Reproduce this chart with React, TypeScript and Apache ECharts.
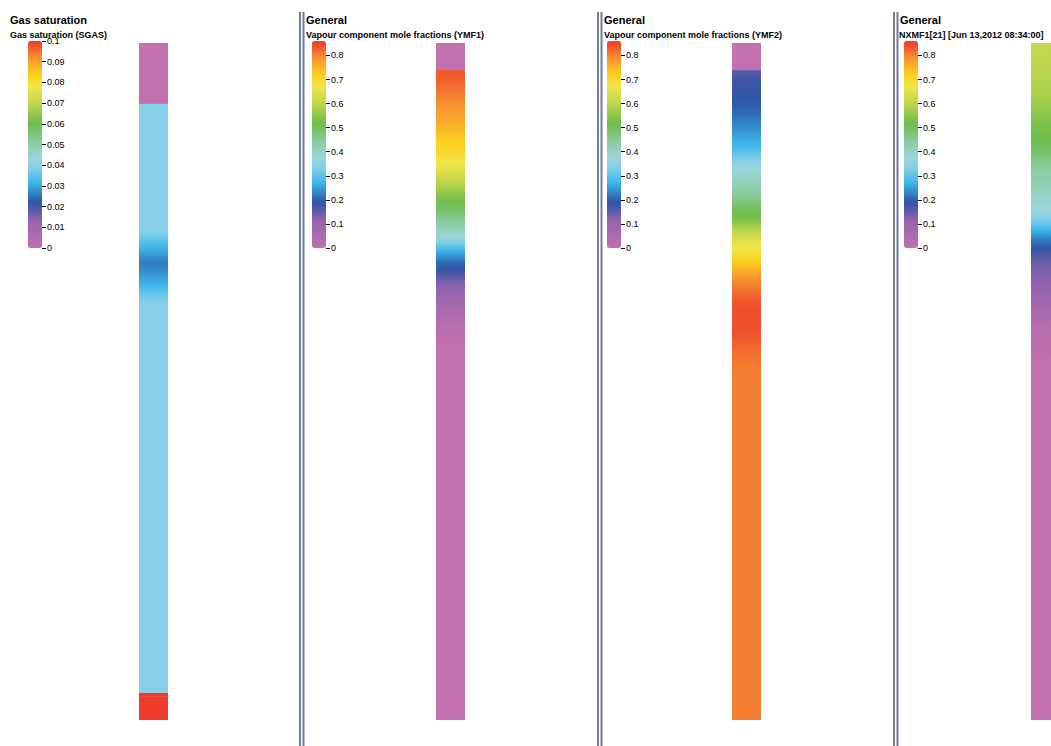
import React, { useEffect, useRef } from 'react';
import * as echarts from 'echarts';

const FONT = '"Liberation Sans", Arial, Helvetica, sans-serif';

// Depth cells of the well column (top to bottom)
const depthCells: string[] = Array.from({ length: 100 }, (_, i) => `K${i + 1}`);

// Legend tick values
const sgasTicks = [0, 0.01, 0.02, 0.03, 0.04, 0.05, 0.06, 0.07, 0.08, 0.09, 0.1];
const fractionTicks = [0, 0.1, 0.2, 0.3, 0.4, 0.5, 0.6, 0.7, 0.8];

// Gas saturation (SGAS) per cell
const sgasValues = [
  0, 0, 0, 0, 0, 0, 0, 0, 0,
  0.039, 0.039, 0.039, 0.039, 0.039, 0.039, 0.039, 0.039, 0.039, 0.039,
  0.039, 0.039, 0.039, 0.039, 0.039, 0.039, 0.039, 0.039, 0.039,
  0.037, 0.034, 0.031, 0.028, 0.026, 0.027, 0.029, 0.031, 0.034, 0.037,
  0.039, 0.039, 0.039, 0.039, 0.039, 0.039, 0.039, 0.039, 0.039, 0.039,
  0.039, 0.039, 0.039, 0.039, 0.039, 0.039, 0.039, 0.039, 0.039, 0.039,
  0.039, 0.039, 0.039, 0.039, 0.039, 0.039, 0.039, 0.039, 0.039, 0.039,
  0.039, 0.039, 0.039, 0.039, 0.039, 0.039, 0.039, 0.039, 0.039, 0.039,
  0.039, 0.039, 0.039, 0.039, 0.039, 0.039, 0.039, 0.039, 0.039, 0.039,
  0.039, 0.039, 0.039, 0.039, 0.039, 0.039, 0.039, 0.039,
  0.1, 0.1, 0.1, 0.1,
];

// Vapour component mole fractions (YMF1)
const ymf1Values = [
  0, 0, 0, 0,
  0.835, 0.83, 0.82, 0.805, 0.795, 0.785, 0.775, 0.765, 0.75, 0.735,
  0.72, 0.71, 0.695, 0.675, 0.655, 0.63, 0.6, 0.575, 0.545, 0.52,
  0.495, 0.465, 0.44, 0.41, 0.375, 0.33, 0.28, 0.24, 0.205, 0.185,
  0.155, 0.13, 0.11, 0.095, 0.075, 0.06, 0.045, 0.03, 0.02, 0.01,
  0, 0, 0, 0, 0, 0, 0, 0, 0, 0,
  0, 0, 0, 0, 0, 0, 0, 0, 0, 0,
  0, 0, 0, 0, 0, 0, 0, 0, 0, 0,
  0, 0, 0, 0, 0, 0, 0, 0, 0, 0,
  0, 0, 0, 0, 0, 0, 0, 0, 0, 0,
  0, 0, 0, 0, 0, 0,
];

// Vapour component mole fractions (YMF2)
const ymf2Values = [
  0, 0, 0, 0,
  0.16, 0.175, 0.18, 0.185, 0.19, 0.2, 0.21, 0.225, 0.235, 0.25,
  0.265, 0.28, 0.31, 0.34, 0.365, 0.39, 0.41, 0.435, 0.455, 0.475,
  0.5, 0.52, 0.55, 0.59, 0.625, 0.655, 0.675, 0.7, 0.725, 0.755,
  0.78, 0.8, 0.815, 0.83, 0.84, 0.845, 0.845, 0.843, 0.84, 0.835,
  0.828, 0.82, 0.815, 0.81, 0.807,
  0.805, 0.805, 0.805, 0.805, 0.805, 0.805, 0.805, 0.805, 0.805, 0.805,
  0.805, 0.805, 0.805, 0.805, 0.805, 0.805, 0.805, 0.805, 0.805, 0.805,
  0.805, 0.805, 0.805, 0.805, 0.805, 0.805, 0.805, 0.805, 0.805, 0.805,
  0.805, 0.805, 0.805, 0.805, 0.805, 0.805, 0.805, 0.805, 0.805, 0.805,
  0.805, 0.805, 0.805, 0.805, 0.805, 0.805, 0.805, 0.805, 0.805, 0.805,
  0.805,
];

// NXMF1[21] per cell
const nxmfValues = [
  0.605, 0.605, 0.6, 0.6, 0.595, 0.59, 0.585, 0.58, 0.57, 0.56,
  0.55, 0.54, 0.53, 0.52, 0.515, 0.5, 0.48, 0.46, 0.445, 0.43,
  0.42, 0.41, 0.395, 0.385, 0.37, 0.345, 0.315, 0.275, 0.24, 0.21,
  0.185, 0.16, 0.145, 0.133, 0.125, 0.115, 0.105, 0.09, 0.08, 0.065,
  0.055, 0.04, 0.03, 0.02, 0.015, 0.008,
  0, 0, 0, 0, 0, 0, 0, 0, 0, 0,
  0, 0, 0, 0, 0, 0, 0, 0, 0, 0,
  0, 0, 0, 0, 0, 0, 0, 0, 0, 0,
  0, 0, 0, 0, 0, 0, 0, 0, 0, 0,
  0, 0, 0, 0, 0, 0, 0, 0, 0, 0,
  0, 0, 0, 0,
];

// Colour ramp (style)
const rampStops: [number, string][] = [
  [0, '#c270ae'],
  [0.135, '#9163ad'],
  [0.22, '#2e54a4'],
  [0.315, '#3ab7ea'],
  [0.39, '#87d0e8'],
  [0.43, '#9dd5da'],
  [0.515, '#8ccba0'],
  [0.6, '#6cbd4b'],
  [0.7, '#c0d64c'],
  [0.78, '#f0e64a'],
  [0.835, '#fcd11d'],
  [0.91, '#f69a30'],
  [1, '#ee3b2b'],
];

function hexToRgb(h: string): number[] {
  const n = parseInt(h.slice(1), 16);
  return [(n >> 16) & 255, (n >> 8) & 255, n & 255];
}

function buildRamp(n: number): string[] {
  const out: string[] = [];
  for (let i = 0; i < n; i++) {
    const t = i / (n - 1);
    let k = 0;
    while (k < rampStops.length - 2 && t > rampStops[k + 1][0]) k++;
    const [t0, c0] = rampStops[k];
    const [t1, c1] = rampStops[k + 1];
    const f = Math.min(1, Math.max(0, (t - t0) / (t1 - t0)));
    const a = hexToRgb(c0);
    const b = hexToRgb(c1);
    const c = a.map((v, j) => Math.round(v + (b[j] - v) * f));
    out.push('#' + c.map((v) => v.toString(16).padStart(2, '0')).join(''));
  }
  return out;
}

const panels = [
  { title: 'Gas saturation', sub: 'Gas saturation (SGAS)', titleX: 10, subX: 10, barX: 28, colX: 139, max: 0.1, ticks: sgasTicks, values: sgasValues },
  { title: 'General', sub: 'Vapour component mole fractions (YMF1)', titleX: 306, subX: 306, barX: 312, colX: 436, max: 0.86, ticks: fractionTicks, values: ymf1Values },
  { title: 'General', sub: 'Vapour component mole fractions (YMF2)', titleX: 604, subX: 604, barX: 607, colX: 732, max: 0.86, ticks: fractionTicks, values: ymf2Values },
  { title: 'General', sub: 'NXMF1[21] [Jun 13,2012 08:34:00]', titleX: 900, subX: 899, barX: 904, colX: 1031, max: 0.86, ticks: fractionTicks, values: nxmfValues },
];

const separatorX = [299, 597, 893];

function buildOption(): any {
  const ramp = buildRamp(121);
  const BAR_TOP = 41;
  const BAR_H = 207;
  const COL_TOP = 43;
  const COL_H = 677;

  const grid: any[] = [];
  const xAxis: any[] = [];
  const yAxis: any[] = [];

  panels.forEach((p, i) => {
    grid.push({ left: p.barX + 14, top: BAR_TOP, width: 1, height: BAR_H, containLabel: false });
    xAxis.push({ type: 'value', gridIndex: i, show: false, min: 0, max: 1 });
    yAxis.push({
      type: 'value',
      gridIndex: i,
      min: 0,
      max: p.max,
      position: 'left',
      axisLine: { show: false },
      splitLine: { show: false },
      axisTick: { show: true, inside: true, length: 4, lineStyle: { color: '#000', width: 1 }, customValues: p.ticks },
      axisLabel: {
        inside: true,
        margin: 5,
        fontSize: 9,
        color: '#000',
        fontFamily: FONT,
        customValues: p.ticks,
        formatter: (v: number) => String(v),
      },
    });
  });

  panels.forEach((p, i) => {
    grid.push({ left: p.colX, top: COL_TOP, width: 29, height: COL_H, containLabel: false });
    xAxis.push({ type: 'category', gridIndex: 4 + i, data: ['cell'], show: false });
    yAxis.push({ type: 'category', gridIndex: 4 + i, data: depthCells, inverse: true, show: false });
  });

  const lastIdx = depthCells.length - 1;
  const series = panels.map((p, i) => {
    const jump = p.max * 0.12;
    return {
      type: 'custom',
      xAxisIndex: 4 + i,
      yAxisIndex: 4 + i,
      data: p.values.map((v, j) => [0, j, v]),
      encode: { x: 0, y: 1 },
      silent: true,
      clip: false,
      renderItem: (params: any, api: any) => {
        const idx = params.dataIndexInside;
        const row = api.value(1);
        const val = api.value(2);
        const c = api.coord([api.value(0), row]);
        const s = api.size([1, 1]);
        const x = c[0] - s[0] / 2;
        const w = s[0];
        const top = c[1] - s[1] / 2;
        const bottom = c[1] + s[1] / 2;
        const color = api.visual('color');
        const children: any[] = [];
        const prevSharp = row === 0 || Math.abs(api.value(2, idx - 1) - val) > jump;
        if (prevSharp) {
          children.push({ type: 'rect', shape: { x, y: top, width: w, height: c[1] - top + 0.5 }, style: { fill: color } });
        }
        if (row === lastIdx) {
          children.push({ type: 'rect', shape: { x, y: c[1], width: w, height: bottom - c[1] }, style: { fill: color } });
        } else {
          const nextVal = api.value(2, idx + 1);
          if (Math.abs(nextVal - val) > jump) {
            children.push({ type: 'rect', shape: { x, y: c[1], width: w, height: bottom - c[1] }, style: { fill: color } });
          } else {
            const nextColor = api.visual('color', idx + 1);
            children.push({
              type: 'rect',
              shape: { x, y: c[1], width: w, height: s[1] + 0.8 },
              style: {
                fill: new echarts.graphic.LinearGradient(0, 0, 0, 1, [
                  { offset: 0, color },
                  { offset: s[1] / (s[1] + 0.8), color: nextColor },
                  { offset: 1, color: nextColor },
                ]),
              },
            });
          }
        }
        return { type: 'group', children };
      },
    };
  });

  const visualMap = panels.map((p, i) => ({
    type: 'continuous',
    seriesIndex: i,
    dimension: 2,
    min: 0,
    max: p.max,
    left: p.barX,
    top: BAR_TOP,
    itemWidth: 14,
    itemHeight: BAR_H,
    padding: 0,
    calculable: false,
    hoverLink: false,
    realtime: false,
    inRange: { color: ramp },
  }));

  const title: any[] = [];
  panels.forEach((p) => {
    title.push({
      text: p.title,
      left: p.titleX,
      top: 14,
      padding: 0,
      textStyle: { fontSize: 11, fontWeight: 'bold', color: '#000', fontFamily: FONT },
    });
    title.push({
      text: p.sub,
      left: p.subX,
      top: 30,
      padding: 0,
      textStyle: { fontSize: 9, fontWeight: 'bold', color: '#000', fontFamily: FONT },
    });
  });

  const graphic: any[] = [];
  separatorX.forEach((x) => {
    graphic.push({ type: 'rect', silent: true, shape: { x, y: 12, width: 2, height: 740 }, style: { fill: '#707c9a' } });
    graphic.push({ type: 'rect', silent: true, shape: { x: x + 3.5, y: 12, width: 2, height: 740 }, style: { fill: '#707c9a' } });
  });

  return {
    animation: false,
    backgroundColor: '#ffffff',
    title,
    grid,
    xAxis,
    yAxis,
    visualMap,
    series,
    graphic,
  };
}

export default function App() {
  const ref = useRef<HTMLDivElement>(null);
  useEffect(() => {
    document.body.style.margin = '0';
    const chart = echarts.init(ref.current as HTMLDivElement, null, { renderer: 'svg' });
    chart.setOption(buildOption());
    return () => chart.dispose();
  }, []);
  return <div ref={ref} style={{ width: 1051, height: 746, overflow: 'hidden' }} />;
}
